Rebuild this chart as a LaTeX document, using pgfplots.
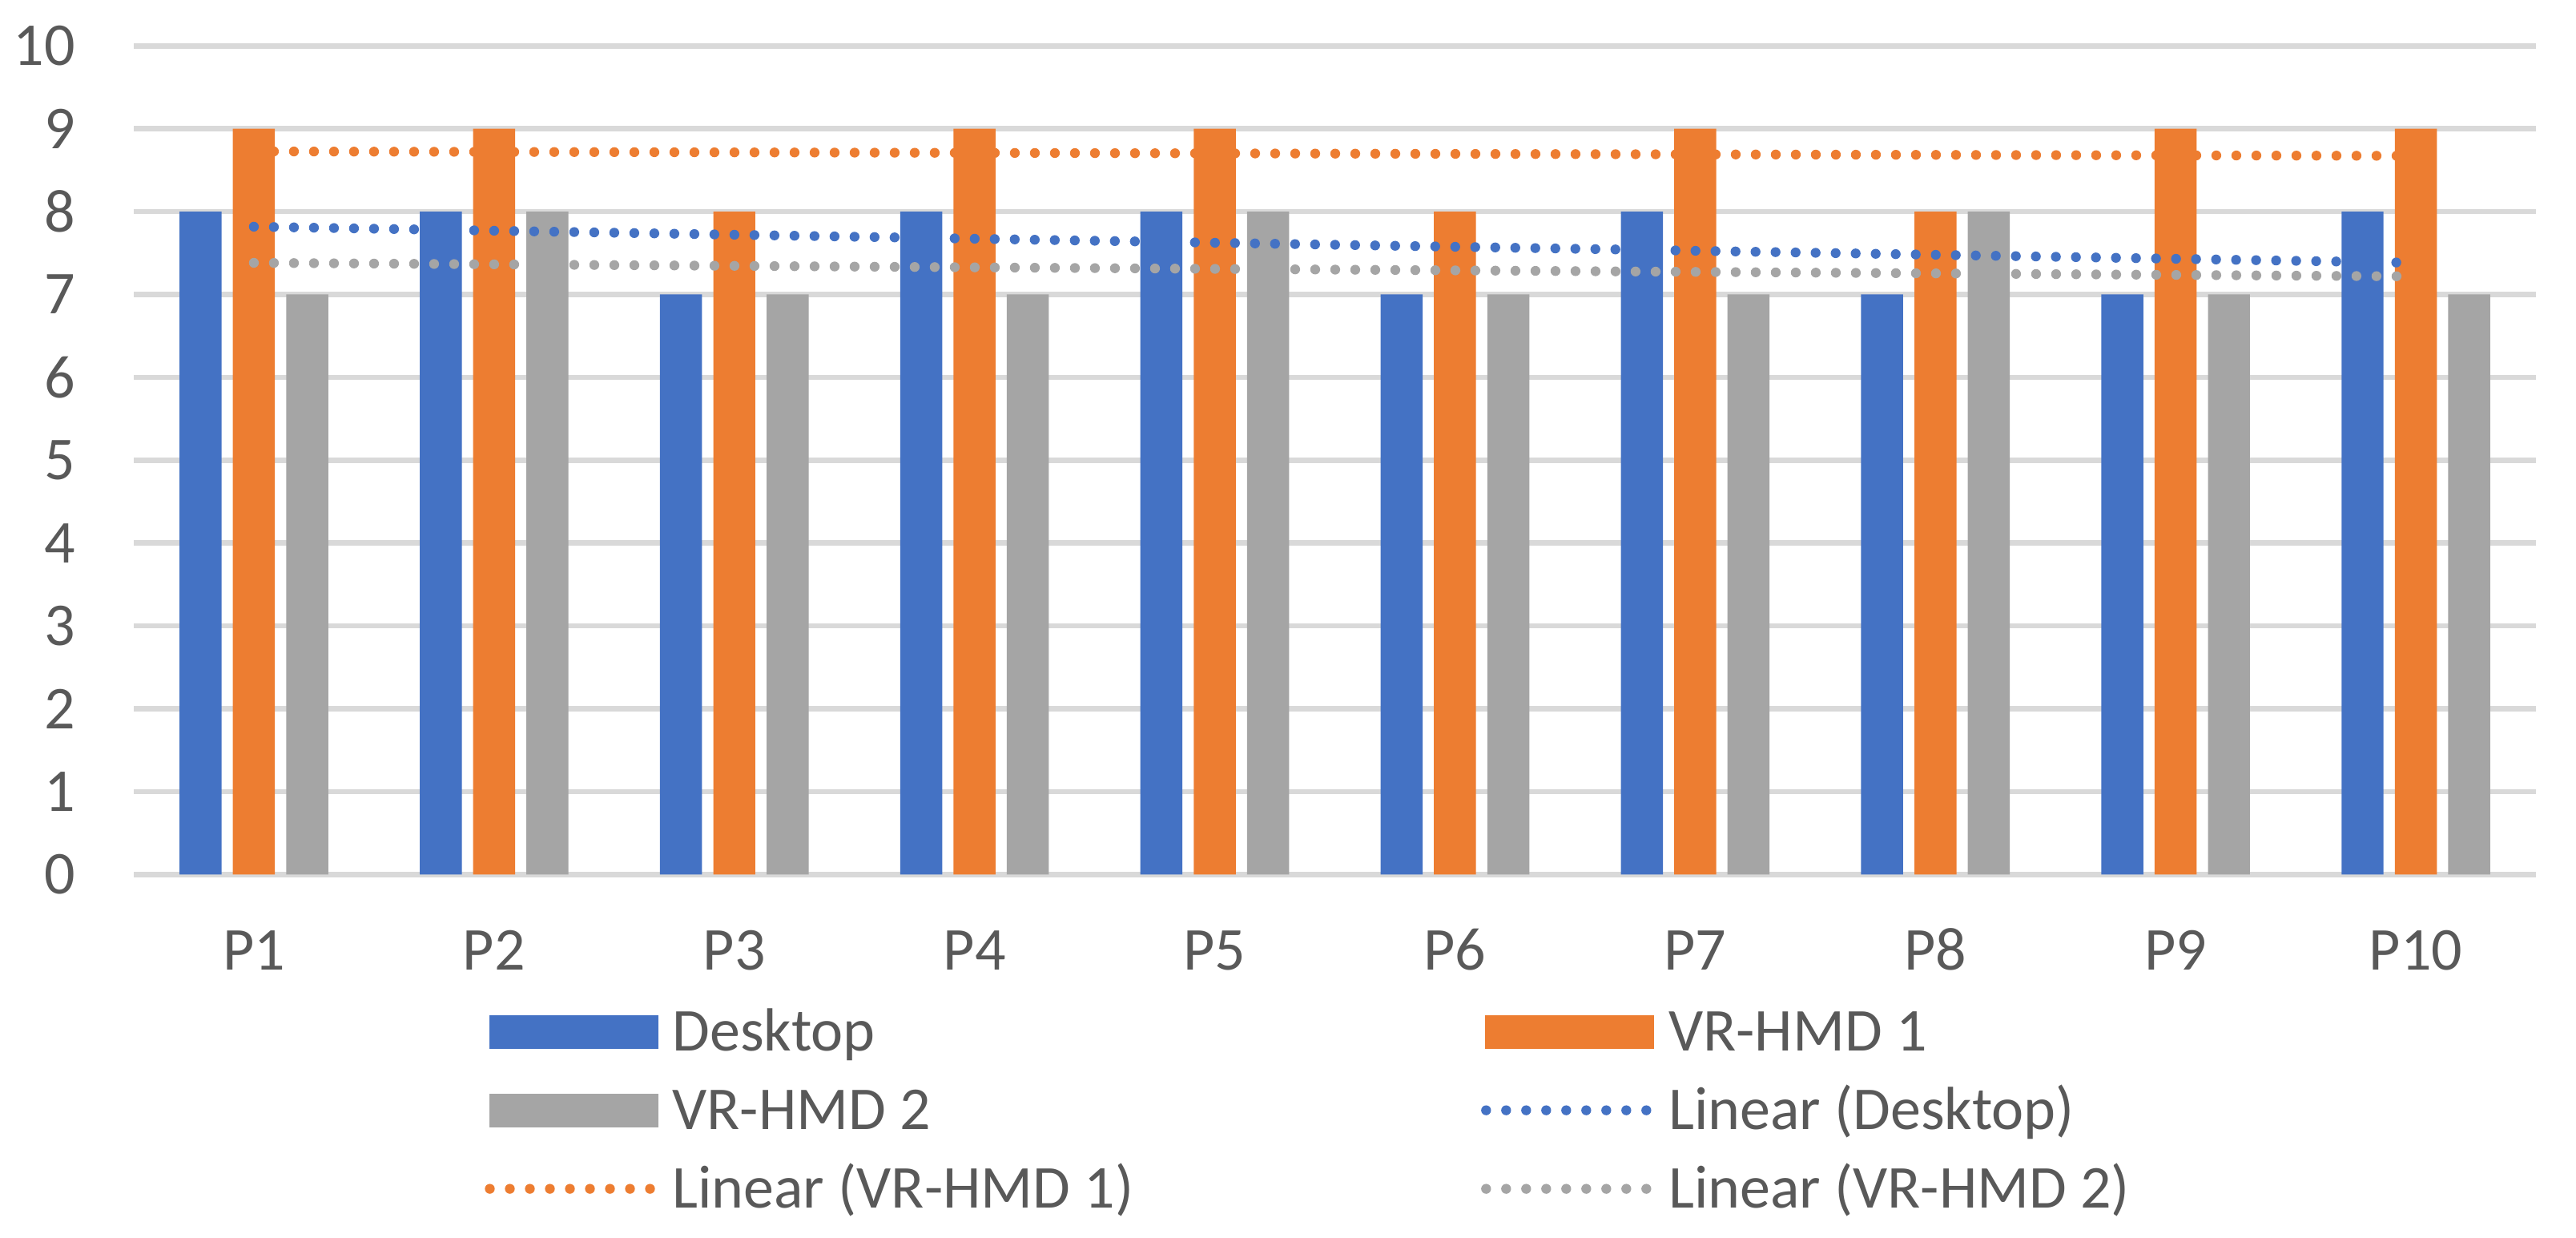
\documentclass[border=0pt]{standalone}
\usepackage{fontspec}
\setmainfont{Carlito}
\usepackage{pgfplots}
\pgfplotsset{compat=1.18}
\definecolor{cBlue}{HTML}{4472C4}
\definecolor{cOrange}{HTML}{ED7D31}
\definecolor{cGray}{HTML}{A5A5A5}
\definecolor{cGrid}{HTML}{D9D9D9}
\definecolor{cText}{HTML}{595959}
\tikzset{trend/.style={line width=1.85pt, line cap=round, dash pattern=on 0pt off 3.75pt}}
\begin{document}
\fontsize{11.4}{13.5}\selectfont
\begin{tikzpicture}
\begin{axis}[
  at={(25.05pt,68.05pt)}, anchor=south west,
  scale only axis, width=449.85pt, height=155.1pt,
  xmin=0.5, xmax=10.5, ymin=0, ymax=10,
  xtick={1,2,3,4,5,6,7,8,9,10},
  xticklabels={P1,P2,P3,P4,P5,P6,P7,P8,P9,P10},
  ytick={0,1,2,3,4,5,6,7,8,9,10},
  ymajorgrids, grid style={cGrid, line width=1pt},
  axis line style={draw=none}, major tick length=0pt,
  tick style={draw=none},
  /pgf/number format/assume math mode=true,
  ticklabel style={font=\fontsize{11.4}{13.5}\selectfont, text=cText},
  xticklabel style={anchor=base, yshift=-17.85pt, inner sep=0pt},
  yticklabel style={anchor=east, xshift=-10.8pt, inner sep=0pt},
  clip=false,
  legend columns=2,
  legend style={draw=none, fill=none, at={(0,0)}, anchor=north west,
    xshift=65.55pt, yshift=-25.55pt, inner sep=0pt,
    font=\fontsize{11.4}{13.5}\selectfont, text=cText,
    cells={anchor=base west},
    nodes={inner sep=0pt, text height=7.3pt, text depth=2.1pt},
    row sep=5.3pt,
    /tikz/every odd column/.append style={column sep=2.7pt},
    /tikz/every even column/.append style={column sep=11.45pt}},
]
\addplot[ybar, bar width=0.175, bar shift=-0.222, fill=cBlue, draw=none,
  legend image code/.code={\fill[cBlue] (0pt,0.45pt) rectangle (31.65pt,6.75pt);}]
  coordinates {(1,8) (2,8) (3,7) (4,8) (5,8) (6,7) (7,8) (8,7) (9,7) (10,8)};
\addlegendentry{\makebox[140pt][l]{Desktop}}
\addplot[ybar, bar width=0.175, bar shift=0, fill=cOrange, draw=none,
  legend image code/.code={\fill[cOrange] (0pt,0.45pt) rectangle (31.65pt,6.75pt);}]
  coordinates {(1,9) (2,9) (3,8) (4,9) (5,9) (6,8) (7,9) (8,8) (9,9) (10,9)};
\addlegendentry{\makebox[140pt][l]{VR-HMD 1}}
\addplot[ybar, bar width=0.175, bar shift=0.222, fill=cGray, draw=none,
  legend image code/.code={\fill[cGray] (0pt,0.45pt) rectangle (31.65pt,6.75pt);}]
  coordinates {(1,7) (2,8) (3,7) (4,7) (5,8) (6,7) (7,7) (8,8) (9,7) (10,7)};
\addlegendentry{\makebox[140pt][l]{VR-HMD 2}}
\addplot[cBlue, trend,
  legend image code/.code={\path[draw=none,fill=none] (0pt,0.45pt) rectangle (31.65pt,6.75pt); \draw[cBlue, trend] (0.15pt,3.6pt) -- (30.2pt,3.6pt);}]
  coordinates {(1,7.818) (10,7.382)};
\addlegendentry{\makebox[140pt][l]{Linear (Desktop)}}
\addplot[cOrange, trend,
  legend image code/.code={\path[draw=none,fill=none] (0pt,0.45pt) rectangle (31.65pt,6.75pt); \draw[cOrange, trend] (0.15pt,3.6pt) -- (30.2pt,3.6pt);}]
  coordinates {(1,8.727) (10,8.673)};
\addlegendentry{\makebox[140pt][l]{Linear (VR-HMD 1)}}
\addplot[cGray, trend,
  legend image code/.code={\path[draw=none,fill=none] (0pt,0.45pt) rectangle (31.65pt,6.75pt); \draw[cGray, trend] (0.15pt,3.6pt) -- (30.2pt,3.6pt);}]
  coordinates {(1,7.382) (10,7.218)};
\addlegendentry{\makebox[140pt][l]{Linear (VR-HMD 2)}}
\end{axis}
\pgfresetboundingbox
\path[use as bounding box] (0,0) rectangle (482.4pt,231.75pt);
\end{tikzpicture}
\end{document}
